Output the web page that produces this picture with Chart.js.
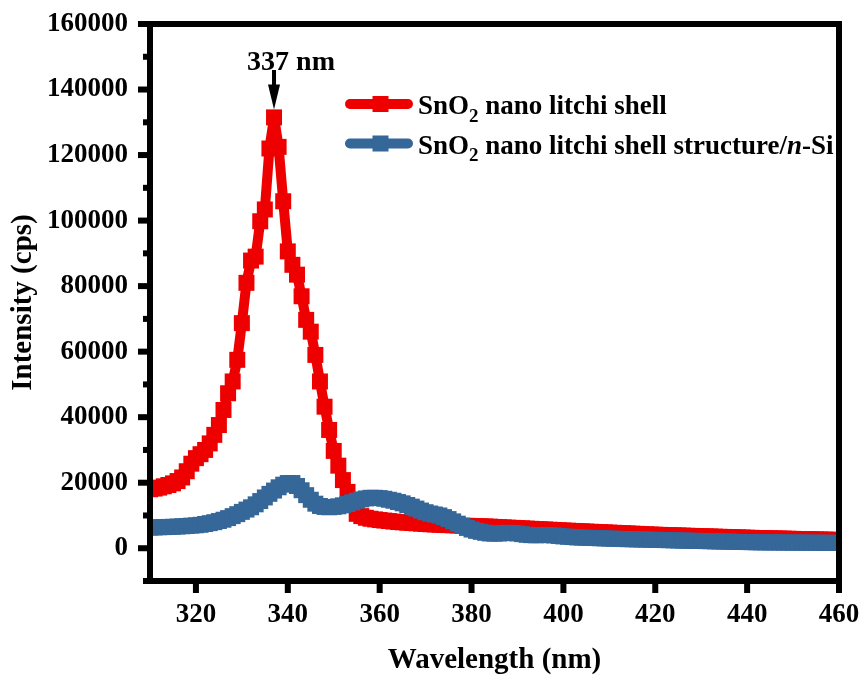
<!DOCTYPE html>
<html><head><meta charset="utf-8">
<script src="https://cdn.jsdelivr.net/npm/chart.js@4.4.1/dist/chart.umd.min.js"></script>
<style>html,body{margin:0;padding:0;background:#fff;}#wrap{width:867px;height:684px;}</style>
</head><body><div id="wrap"><canvas id="c" width="867" height="684"></canvas></div>
<script>
const wavelengths = [
310,311,312,313,314,315,316,317,318,319,
320,321,322,323,324,325,326,327,328,329,
330,331,332,333,334,335,336,337,338,339,
340,341,342,343,344,345,346,347,348,349,
350,351,352,353,354,355,356,357,358,359,
360,361,362,363,364,365,366,367,368,369,
370,371,372,373,374,375,376,377,378,379,
380,381,382,383,384,385,386,387,388,389,
390,391,392,393,394,395,396,397,398,399,
400,401,402,403,404,405,406,407,408,409,
410,411,412,413,414,415,416,417,418,419,
420,421,422,423,424,425,426,427,428,429,
430,431,432,433,434,435,436,437,438,439,
440,441,442,443,444,445,446,447,448,449,
450,451,452,453,454,455,456,457,458,459,
460];
const sno2Shell = [
18000,18200,18500,18900,19300,19800,20500,21600,23500,25800,
27500,28700,30000,32000,34600,37600,42200,47300,50900,57500,
68700,81000,87800,89000,99800,103400,122000,131500,122500,105900,
90600,86500,83500,76900,69700,66100,59000,50900,43200,36100,
29700,25200,20800,17200,13200,10500,9800,9300,9000,8800,
8600,8450,8300,8150,8000,7900,7800,7700,7600,7500,
7400,7320,7250,7180,7100,7050,7000,6950,6900,6850,
6800,6750,6700,6650,6600,6500,6430,6360,6290,6220,
6150,6080,6000,5930,5860,5790,5720,5650,5580,5500,
5420,5360,5290,5230,5160,5100,5030,4970,4900,4840,
4780,4710,4650,4580,4520,4450,4390,4320,4260,4190,
4130,4080,4030,3990,3940,3900,3850,3810,3760,3720,
3670,3630,3580,3540,3490,3450,3400,3360,3310,3270,
3220,3180,3130,3100,3060,3030,3000,2960,2930,2900,
2860,2830,2800,2760,2730,2700,2660,2630,2600,2560,
2530];
const sno2OnSi = [
6300,6350,6400,6450,6500,6550,6620,6700,6800,6900,
7000,7150,7400,7650,7950,8300,8700,9200,9800,10400,
11100,11800,12500,13400,14400,15500,16600,17600,18600,19400,
19900,19900,19000,17700,16200,14800,13600,12900,12600,12500,
12600,12800,13100,13500,14000,14500,14900,15200,15400,15400,
15300,15100,14800,14500,14100,13700,13200,12700,12100,11500,
11000,10600,10300,10000,9500,8900,8200,7500,6800,6200,
5700,5300,5000,4700,4500,4450,4500,4600,4700,4650,
4500,4300,4100,4000,3950,4000,4050,4000,3900,3750,
3600,3500,3400,3300,3250,3200,3150,3100,3050,3000,
2950,2900,2850,2800,2770,2740,2700,2670,2640,2600,
2570,2530,2490,2450,2410,2370,2330,2300,2270,2240,
2200,2170,2140,2100,2070,2040,2000,1970,1940,1910,
1880,1850,1820,1800,1790,1780,1770,1760,1750,1740,
1730,1720,1710,1700,1690,1680,1670,1660,1650,1640,
1630];
const xTickValues = [320,340,360,380,400,420,440,460];
const yTickValues = [0,20000,40000,60000,80000,100000,120000,140000,160000];
const yMinorTickValues = [-10000,10000,30000,50000,70000,90000,110000,130000,150000];
const seriesNames = ['SnO\u2082 nano litchi shell','SnO\u2082 nano litchi shell structure/n-Si'];
const peakLabel = '337 nm';
const peakWavelength = 337;

const RED = '#EE0000', BLUE = '#356799';
const FONT = '"Liberation Serif","Times New Roman",serif';

const pts = arr => wavelengths.map((w,i)=>({x:w,y:arr[i]}));
const ds = (label, arr, color, order) => ({
  label, data: pts(arr), borderColor: color, backgroundColor: color,
  borderWidth: 10, borderCapStyle: 'round', borderJoinStyle: 'round',
  pointStyle: 'rect', pointRadius: 11.3, pointBorderWidth: 0,
  pointBackgroundColor: color, pointHoverRadius: 11.3,
  tension: 0, order, clip: 0
});

const legendParts = [
  [{t:'SnO'},{t:'2',sub:true},{t:' nano litchi shell'}],
  [{t:'SnO'},{t:'2',sub:true},{t:' nano litchi shell structure/'},{t:'n',it:true},{t:'-Si'}]
];

const zeroPad = s => { s.paddingTop=0; s.paddingBottom=0; s.paddingLeft=0; s.paddingRight=0; };

const decor = {
  id:'decor',
  afterDraw(chart){
    const {ctx, chartArea:a, scales:{x,y}} = chart;
    ctx.save();
    ctx.strokeStyle='#000'; ctx.lineWidth=6; ctx.lineJoin='miter';
    ctx.strokeRect(a.left, a.top, a.right-a.left, a.bottom-a.top);
    ctx.fillStyle='#000';
    yTickValues.forEach(v=>{const p=y.getPixelForValue(v); ctx.fillRect(a.left-3-9, p-3, 9, 6);});
    yMinorTickValues.forEach(v=>{const p=y.getPixelForValue(v); ctx.fillRect(a.left-3-4, p-3, 4, 6);});
    xTickValues.forEach(v=>{const p=x.getPixelForValue(v); ctx.fillRect(p-3, a.bottom+3, 6, 9);});
    const colors=[RED,BLUE];
    const rows=[104,143.5];
    legendParts.forEach((parts,i)=>{
      const cy=rows[i];
      ctx.strokeStyle=colors[i]; ctx.lineWidth=10; ctx.lineCap='round';
      ctx.beginPath(); ctx.moveTo(350,cy); ctx.lineTo(408,cy); ctx.stroke();
      ctx.fillStyle=colors[i]; ctx.fillRect(380.5-8, cy-8, 16, 16);
      ctx.fillStyle='#000'; ctx.textBaseline='alphabetic'; ctx.textAlign='left';
      let tx=418; const base=cy+10;
      parts.forEach(p=>{
        ctx.font=(p.it?'italic ':'')+'bold '+(p.sub?19:27)+'px '+FONT;
        ctx.fillText(p.t, tx, base+(p.sub?7.5:0));
        tx+=ctx.measureText(p.t).width;
      });
    });
    const px=x.getPixelForValue(peakWavelength);
    const peakY=y.getPixelForValue(sno2Shell[wavelengths.indexOf(peakWavelength)]);
    const tip=peakY-8;
    ctx.fillStyle='#000';
    ctx.font='bold 28px '+FONT; ctx.textAlign='center'; ctx.textBaseline='alphabetic';
    ctx.fillText(peakLabel, px+17, 70);
    ctx.fillRect(px-2, 70, 4, tip-70-20);
    ctx.beginPath(); ctx.moveTo(px-6, tip-25); ctx.lineTo(px+6, tip-25); ctx.lineTo(px, tip); ctx.closePath(); ctx.fill();
    ctx.restore();
  }
};

new Chart(document.getElementById('c'), {
  type:'line',
  data:{datasets:[ds(seriesNames[0], sno2Shell, RED, 2), ds(seriesNames[1], sno2OnSi, BLUE, 1)]},
  options:{
    responsive:false, animation:false, devicePixelRatio:1,
    layout:{padding:{left:0,top:24,right:28,bottom:0}},
    plugins:{legend:{display:false}, tooltip:{enabled:false}},
    events:[],
    scales:{
      x:{type:'linear', min:310, max:460,
        afterBuildTicks:s=>{s.ticks=xTickValues.map(v=>({value:v}));},
        afterFit:s=>{s.height=103; zeroPad(s);},
        grid:{display:true, drawOnChartArea:false, drawTicks:false},
        border:{display:false},
        ticks:{color:'#000', font:{family:FONT, size:27, weight:'bold'}, padding:18, maxRotation:0, autoSkip:false, callback:v=>String(v)},
        title:{display:true, text:'Wavelength (nm)', color:'#000', font:{family:FONT, size:29, weight:'bold'}, padding:{top:0,bottom:6}}
      },
      y:{type:'linear', min:-10000, max:160000,
        afterBuildTicks:s=>{s.ticks=yTickValues.map(v=>({value:v}));},
        afterFit:s=>{s.width=150; zeroPad(s);},
        grid:{display:true, drawOnChartArea:false, drawTicks:false},
        border:{display:false},
        ticks:{color:'#000', font:{family:FONT, size:27, weight:'bold'}, padding:22, autoSkip:false, callback:v=>String(v)},
        title:{display:true, text:'Intensity (cps)', color:'#000', font:{family:FONT, size:29, weight:'bold'}, padding:{top:6,bottom:0}}
      }
    }
  },
  plugins:[decor]
});
</script></body></html>
